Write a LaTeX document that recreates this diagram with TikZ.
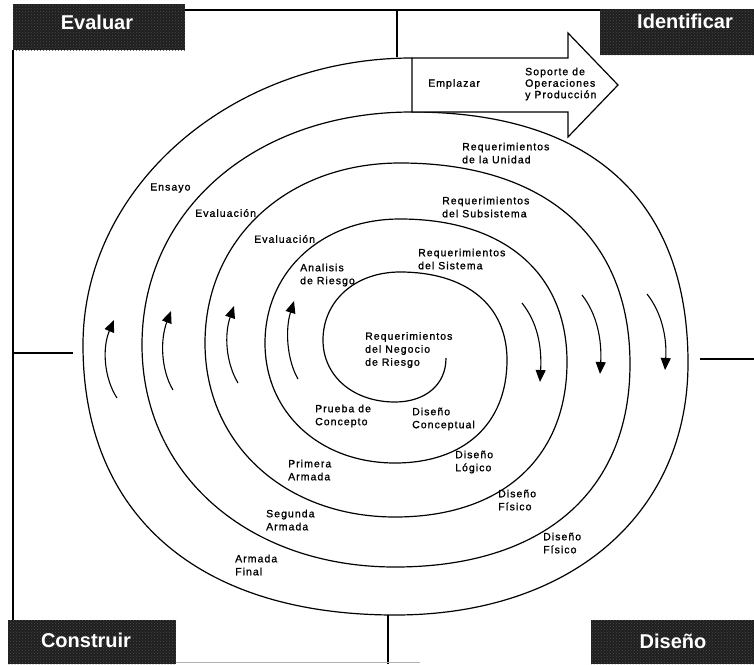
\documentclass[tikz,border=0pt]{standalone}
\usepackage{fontspec}
\setmainfont{Liberation Sans}
\newfontfamily\lblfamily[LetterSpace=10,FakeBold=1.2]{Liberation Sans}
\newcommand{\lblfont}{\lblfamily\fontsize{10.5}{13}\selectfont}
\newcommand{\ttlfont}{\bfseries\fontsize{20}{24}\selectfont}
\usetikzlibrary{arrows.meta,patterns}
\begin{document}
\begin{tikzpicture}[x=1pt,y=-1pt,
		ring/.style={line width=1.2pt},
		frame/.style={line width=1.4pt},
		flow/.style={line width=1.1pt,-{Triangle[length=12pt,width=10pt]}},
		lbl/.style={font=\lblfont,align=left,inner sep=0pt,anchor=west},
		titlebox/.style={fill=black!88,inner sep=0pt,postaction={pattern=crosshatch dots,pattern color=black!70}},
		boxtitle/.style={text=white,font=\ttlfont,inner sep=0pt}]
		\useasboundingbox (0,0) rectangle (754,664);
		\node[titlebox,minimum width=172pt,minimum height=46pt] (evaluar) at (99,27) {};
		\node[titlebox,minimum width=154pt,minimum height=46pt] (identificar) at (677,32) {};
		\node[titlebox,minimum width=168pt,minimum height=44pt] (construir) at (92,642) {};
		\node[titlebox,minimum width=163pt,minimum height=44pt] (diseno) at (672.5,642) {};
		\node[boxtitle] (evaluartxt) at (97,22) {Evaluar};
		\node[boxtitle] (identificartxt) at (685,21) {Identificar};
		\node[boxtitle] (construirtxt) at (86,640) {Construir};
		\node[boxtitle] (disenotxt) at (673,641) {Diseño};
		\coordinate (topline) at (397,10);
		\coordinate (ringtop) at (397,57);
		\coordinate (ringbot) at (388,615);
		\coordinate (botline) at (388,664);
		\coordinate (lefttick) at (73,353);
		\coordinate (righttick) at (700,359);
		\draw[frame] (evaluar.east |- topline) -- (identificar.west |- topline);
		\draw[frame] (evaluar.south west) -- (evaluar.south west |- construir.north);
		\draw[frame] (topline) -- (ringtop);
		\draw[frame] (ringbot) -- (botline);
		\draw[frame] (evaluar.south west |- lefttick) -- (lefttick);
		\draw[frame] (righttick) -- (754,359);
		\draw[gray!60,line width=1pt] (construir.east |- 0,662) -- (420,662);
		\draw[ring] (446,358)
			.. controls (446,385) and (425,402) .. (395,402)
			.. controls (353,402) and (323,376) .. (323,340)
			.. controls (323,301) and (355,272) .. (400,272)
			.. controls (466,272) and (507,305) .. (507,360)
			.. controls (507,424) and (464,463) .. (395,463)
			.. controls (320,463) and (265,413) .. (265,343)
			.. controls (265,271) and (322,219) .. (400,219)
			.. controls (504,219) and (567,273) .. (567,362)
			.. controls (567,458) and (502,517) .. (395,517)
			.. controls (285,517) and (205,444) .. (205,343)
			.. controls (205,239) and (287,163) .. (400,163)
			.. controls (545,163) and (630,237) .. (630,364)
			.. controls (630,492) and (543,567) .. (395,567)
			.. controls (248,567) and (142,474) .. (142,345)
			.. controls (142,210) and (255,112) .. (412,112)
			.. controls (591,112) and (688,200) .. (688,363)
			.. controls (688,514) and (571,615) .. (395,615)
			.. controls (198,615) and (83,515) .. (83,345)
			.. controls (83,187) and (231,58) .. (412,58);
		\draw[ring,fill=white] (412,58) -- (568,58) -- (568,33) -- (618,85) -- (568,137) -- (568,112) -- (412,112) -- cycle;
		\draw[flow] (117,398) .. controls (104,378) and (102,348) .. (114,320);
		\draw[flow] (173,390) .. controls (161,370) and (160,340) .. (171,311);
		\draw[flow] (238,383) .. controls (226,363) and (224,335) .. (234,306);
		\draw[flow] (298,379) .. controls (287,360) and (285,330) .. (294,301);
		\draw[flow] (522,303) .. controls (537,322) and (542,345) .. (540,382);
		\draw[flow] (582,295) .. controls (597,314) and (602,340) .. (600,374);
		\draw[flow] (647,294) .. controls (662,313) and (667,338) .. (665,370);
		\node[lbl] (emplazar) at (428,84) {Emplazar};
		\node[lbl,font=\lblfamily\fontsize{10.5}{11.5}\selectfont] (soporte) at (525,84) {Soporte de\\Operaciones\\y Producción};
		\node[lbl] (unidad) at (462,153) {Requerimientos\\de la Unidad};
		\node[lbl] (subsistema) at (442,207) {Requerimientos\\del Subsistema};
		\node[lbl] (sistema) at (418,259) {Requerimientos\\del Sistema};
		\node[lbl] (negocio) at (365,350) {Requerimientos\\del Negocio\\de Riesgo};
		\node[lbl] (ensayo) at (150,188) {Ensayo};
		\node[lbl] (evaluacion) at (195,213) {Evaluación};
		\node[lbl] (evaluacionb) at (254,239) {Evaluación};
		\node[lbl] (analisis) at (300,275) {Analisis\\de Riesgo};
		\node[lbl] (prueba) at (315,416) {Prueba de\\Concepto};
		\node[lbl] (conceptual) at (412,419) {Diseño\\Conceptual};
		\node[lbl] (primera) at (288,470) {Primera\\Armada};
		\node[lbl] (logico) at (455,462) {Diseño\\Lógico};
		\node[lbl] (segunda) at (266,520) {Segunda\\Armada};
		\node[lbl] (fisico) at (498,500) {Diseño\\Físico};
		\node[lbl] (final) at (235,565) {Armada\\Final};
		\node[lbl] (fisicob) at (543,543) {Diseño\\Físico};
\end{tikzpicture}
\end{document}
